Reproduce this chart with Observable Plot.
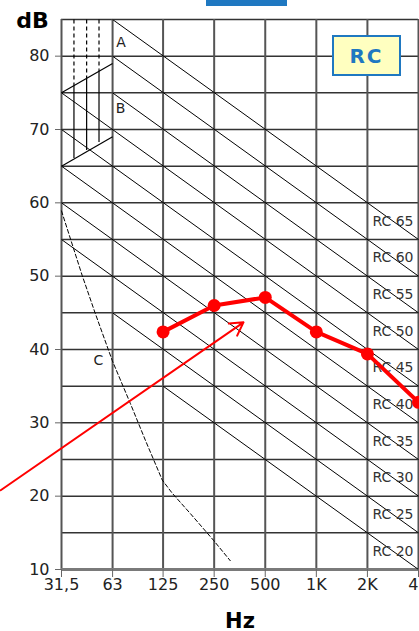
<!DOCTYPE html>
<html>
<head>
<meta charset="utf-8">
<script src="https://cdn.jsdelivr.net/npm/d3@7"></script>
<script src="https://cdn.jsdelivr.net/npm/@observablehq/plot@0.6"></script>
<style>
  html, body { margin: 0; padding: 0; overflow: hidden; background: white; }
  #wrap { position: relative; width: 419px; height: 631px; }
  #bar { position: absolute; left: 206px; top: 0; width: 81px; height: 6px; background: #1f78c1; }
  #rcbox { position: absolute; left: 332px; top: 35px; width: 65px; height: 37px;
    border: 2px solid #1f78c1; background: #ffffc0; color: #1f78c1;
    font: bold 20px "DejaVu Sans", sans-serif; letter-spacing: 2px;
    display: flex; align-items: center; justify-content: center; }
</style>
</head>
<body>
<div id="wrap"></div>
<script>
// Octave band centres and their labels
const freqs = [31.5, 63, 125, 250, 500, 1000, 2000, 4000];
const freqLabels = ["31,5", "63", "125", "250", "500", "1K", "2K", "4K"];
const dbTicks = [10, 20, 30, 40, 50, 60, 70, 80];
const gridDb = [15, 20, 25, 30, 35, 40, 45, 50, 55, 60, 65, 70, 75, 80, 85];

// RC reference lines (-5 dB/octave), start point and end point at 4 kHz
const rcRatings = [65, 60, 55, 50, 45, 40, 35, 30, 25, 20];
const rcStartHz = [63, 63, 63, 31.5, 31.5, 31.5, 31.5, 31.5, 63, 125];
const rcStartDb = [85, 80, 75, 75, 70, 65, 60, 55, 45, 35];
const rcEndHz = [4000, 4000, 4000, 4000, 4000, 4000, 4000, 4000, 4000, 4000];
const rcEndDb = [55, 50, 45, 40, 35, 30, 25, 20, 15, 10];

// Region A / B boundary lines (31.5 - 63 Hz)
const abStartHz = [31.5, 31.5];
const abStartDb = [75, 65];
const abEndHz = [63, 63];
const abEndDb = [79, 69];

// Sub-divisions between 31.5 and 63 Hz
const subHz = [37.3, 44.3, 52.4];
const subTopDb = [85, 85, 85];
const subMidDb = [76, 77, 78.2];
const subBotDb = [66.1, 67.2, 68.3];

// Curve C (dashed)
const cHz = [31.5, 41.7, 49.5, 62.7, 80.3, 98.4, 123.6, 141.6, 181.4, 247.4, 311];
const cDb = [58.9, 50.1, 45.1, 38.5, 32.6, 27.6, 22.2, 20.4, 17.6, 14.0, 11.2];

// Region labels
const regionText = ["A", "B", "C"];
const regionHz = [70.6, 70.3, 52];
const regionDb = [81.9, 72.8, 38.5];

// Measured spectrum (red)
const measHz = [125, 250, 500, 1000, 2000, 4000];
const measDb = [42.4, 46.0, 47.1, 42.4, 39.4, 32.8];

// Pointer arrow
const arrowFrom = [13.8, 20.8];
const arrowTo = [372, 43.7];

const rcLines = rcRatings.map((rc, i) => ({rc, f1: rcStartHz[i], d1: rcStartDb[i], f2: rcEndHz[i], d2: rcEndDb[i]}));
const abLines = abStartHz.map((f, i) => ({f1: f, d1: abStartDb[i], f2: abEndHz[i], d2: abEndDb[i]}));
const subLines = subHz.map((f, i) => ({f, top: subTopDb[i], mid: subMidDb[i], bot: subBotDb[i]}));
const cCurve = cHz.map((f, i) => ({f, db: cDb[i]}));
const regions = regionText.map((t, i) => ({t, f: regionHz[i], db: regionDb[i]}));
const meas = measHz.map((f, i) => ({f, db: measDb[i]}));
const xLabels = freqs.map((f, i) => ({f, t: freqLabels[i]}));
const labelHz = Math.sqrt(freqs[6] * freqs[7]);

const font = '"DejaVu Sans", sans-serif';

const chart = Plot.plot({
  width: 419,
  height: 631,
  marginTop: 19,
  marginBottom: 62,
  marginLeft: 61,
  marginRight: 1,
  style: {fontFamily: font, fontSize: "16px", background: "white", color: "#222"},
  x: {type: "log", domain: [31.5, 4000]},
  y: {type: "linear", domain: [10, 85]},
  marks: [
    Plot.ruleY(gridDb, {x1: freqs[0], x2: freqs[7], stroke: "#333", strokeWidth: 1.5}),
    Plot.ruleX(freqs, {y1: 10, y2: 85, stroke: "#555", strokeWidth: 2}),
    Plot.ruleY([10], {x1: freqs[0], x2: freqs[7], stroke: "#7a7a7a", strokeWidth: 3}),
    Plot.link(rcLines, {x1: "f1", y1: "d1", x2: "f2", y2: "d2", stroke: "#000", strokeWidth: 1}),
    Plot.link(abLines, {x1: "f1", y1: "d1", x2: "f2", y2: "d2", stroke: "#000", strokeWidth: 1.2}),
    Plot.link(subLines, {x1: "f", x2: "f", y1: "top", y2: "mid", stroke: "#000", strokeWidth: 1.2, strokeDasharray: "4,3"}),
    Plot.link(subLines, {x1: "f", x2: "f", y1: "mid", y2: "bot", stroke: "#000", strokeWidth: 1.2}),
    Plot.line(cCurve, {x: "f", y: "db", stroke: "#000", strokeWidth: 1, strokeDasharray: "4,2.5"}),
    Plot.text(regions, {x: "f", y: "db", text: "t", fontSize: 14, fill: "#222", fontFamily: font}),
    Plot.text(rcRatings, {x: labelHz, y: d => d - 7.5, text: d => `RC ${d}`, fontSize: 14, fill: "#333", fontFamily: font}),
    Plot.arrow([0], {x1: arrowFrom[0], y1: arrowFrom[1], x2: arrowTo[0], y2: arrowTo[1], stroke: "#ff0000", strokeWidth: 2, headLength: 11, bend: 0}),
    Plot.line(meas, {x: "f", y: "db", stroke: "#ff0000", strokeWidth: 4}),
    Plot.dot(meas, {x: "f", y: "db", r: 6.5, fill: "#ff0000", stroke: "none"}),
    Plot.axisX({ticks: freqs, tickFormat: () => "", tickSize: 8, stroke: "#666", label: null}),
    Plot.text(xLabels, {x: "f", text: "t", frameAnchor: "bottom", lineAnchor: "top", dy: 9, fontSize: 16, fill: "#222", fontFamily: font}),
    Plot.axisY({ticks: dbTicks, tickSize: 6, tickPadding: 6, stroke: "#666", fill: "#222", fontSize: 16, label: null}),
    Plot.text(["dB"], {frameAnchor: "top-left", textAnchor: "middle", dx: -29, dy: 8, lineAnchor: "bottom", fontSize: 22, fontWeight: "bold", fill: "#000", fontFamily: font}),
    Plot.text(["Hz"], {frameAnchor: "bottom", dy: 58, lineAnchor: "bottom", fontSize: 21, fontWeight: "bold", fill: "#000", fontFamily: font})
  ]
});

const wrap = document.getElementById("wrap");
wrap.appendChild(chart);
const bar = document.createElement("div"); bar.id = "bar"; wrap.appendChild(bar);
const box = document.createElement("div"); box.id = "rcbox"; box.textContent = "RC"; wrap.appendChild(box);
</script>
</body>
</html>
